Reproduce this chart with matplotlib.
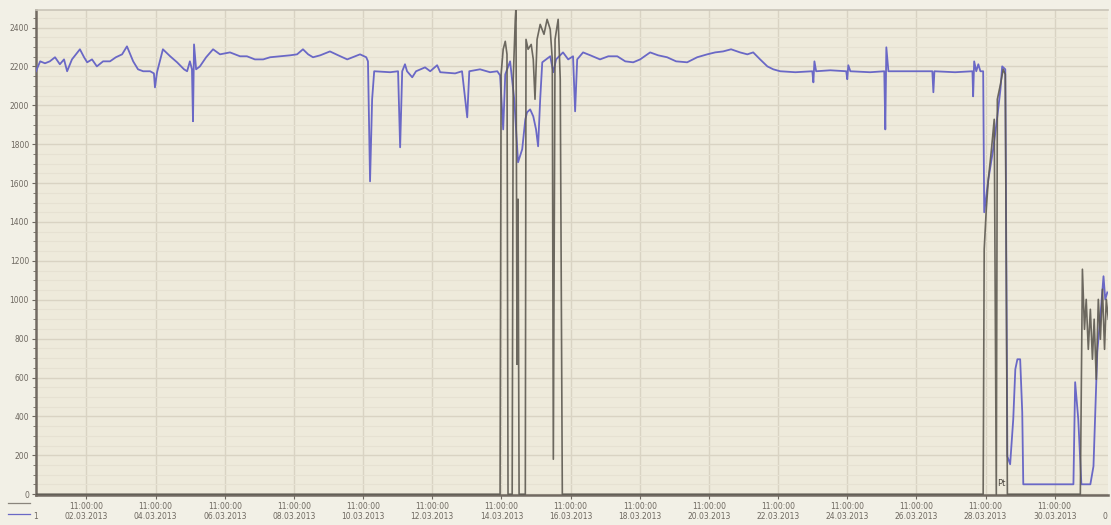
#!/usr/bin/env python3
"""
Trend plot of two channels over March 2013 (blue = measured, grey = reference).
Times are given as days since 01.03.2013 00:00.
"""

import numpy as np
import pandas as pd
import matplotlib
import matplotlib.pyplot as plt
import matplotlib.dates as mdates
from matplotlib.lines import Line2D
from matplotlib.ticker import MultipleLocator

matplotlib.use("Agg")

T0 = np.datetime64("2013-03-01T00:00")

# blue channel
blue_days = [
    0.00, 0.12, 0.26, 0.40, 0.55, 0.69, 0.81, 0.90, 1.04, 1.27, 1.39, 1.48, 1.62, 1.76,
    1.94, 2.14, 2.31, 2.49, 2.63, 2.81, 2.95, 3.10, 3.30, 3.41, 3.44, 3.50, 3.67, 3.88,
    4.08, 4.28, 4.37, 4.45, 4.51, 4.54, 4.57, 4.63, 4.74, 4.92, 5.12, 5.32, 5.61, 5.90,
    6.10, 6.33, 6.57, 6.77, 7.06, 7.35, 7.55, 7.72, 7.87, 8.01, 8.22, 8.50, 8.74, 9.00,
    9.23, 9.37, 9.55, 9.60, 9.66, 9.72, 9.78, 10.24, 10.47, 10.53, 10.59, 10.67, 10.73,
    10.88, 10.99, 11.25, 11.40, 11.60, 11.69, 12.12, 12.32, 12.47, 12.53, 12.84, 13.13,
    13.34, 13.42, 13.51, 13.57, 13.71, 13.83, 13.94, 14.06, 14.15, 14.20, 14.29, 14.38,
    14.46, 14.52, 14.58, 14.64, 14.75, 14.87, 14.96, 15.04, 15.24, 15.39, 15.53, 15.59,
    15.65, 15.82, 16.03, 16.31, 16.55, 16.81, 17.04, 17.27, 17.47, 17.76, 17.99, 18.25,
    18.51, 18.83, 19.12, 19.41, 19.64, 19.87, 20.10, 20.36, 20.57, 20.74, 20.94, 21.15,
    21.32, 21.52, 21.96, 22.45, 22.48, 22.51, 22.56, 22.97, 23.43, 23.46, 23.49, 23.55,
    24.12, 24.53, 24.56, 24.59, 24.65, 25.28, 25.92, 25.95, 25.98, 26.58, 27.08, 27.10,
    27.13, 27.19, 27.25, 27.31, 27.39, 27.42, 27.54, 27.68, 27.80, 27.89, 27.94, 28.03,
    28.09, 28.17, 28.26, 28.32, 28.38, 28.46, 28.52, 28.55, 30.00, 30.05, 30.14, 30.23,
    30.49, 30.58, 30.69, 30.78, 30.87, 30.92, 30.98,
]
blue_vals = [
    2175, 2226, 2216, 2226, 2247, 2211, 2236, 2175, 2236, 2288, 2247, 2221, 2236, 2200,
    2226, 2226, 2247, 2262, 2303, 2226, 2185, 2175, 2175, 2164, 2092, 2170, 2288, 2252,
    2221, 2185, 2175, 2226, 2185, 1918, 2313, 2185, 2200, 2247, 2288, 2262, 2272, 2252,
    2252, 2236, 2236, 2247, 2252, 2257, 2262, 2288, 2262, 2247, 2257, 2277, 2257, 2236,
    2252, 2262, 2247, 2226, 1609, 2031, 2175, 2170, 2175, 1784, 2175, 2211, 2175,
    2144, 2175, 2195, 2175, 2206, 2170, 2164, 2175, 1938, 2175, 2185, 2170,
    2175, 2154, 1876, 2159, 2226, 2031, 1707, 1774, 1928, 1964, 1979, 1943,
    1876, 1789, 2031, 2221, 2236, 2252, 2170, 2236, 2272, 2236, 2252, 1969,
    2236, 2272, 2257, 2236, 2252, 2252, 2226, 2221, 2236, 2272, 2257, 2247,
    2226, 2221, 2247, 2262, 2272, 2277, 2288, 2272, 2262, 2272, 2236, 2200,
    2185, 2175, 2170, 2175, 2118, 2226, 2175, 2180, 2175, 2134, 2206, 2175,
    2170, 2175, 1876, 2298, 2175, 2175, 2175, 2067, 2175, 2170, 2175, 2046,
    2226, 2175, 2211, 2175, 2175, 1450, 1619, 1774, 1943, 2082, 2200, 2185,
    195, 154, 386, 643, 694, 694, 422, 51, 51, 576, 386, 51,
    51, 144, 730, 915, 1121, 1002, 1038,
]

# grey channel
grey_days = [
    0.00, 13.42, 13.45, 13.51, 13.57, 13.62, 13.65, 13.77, 13.80, 13.86, 13.88, 13.91,
    13.94, 13.97, 14.15, 14.17, 14.23, 14.32, 14.38, 14.43, 14.49, 14.58, 14.69, 14.78,
    14.87, 14.93, 14.96, 15.01, 15.10, 15.16, 15.22, 27.39, 27.42, 27.48, 27.54, 27.63,
    27.71, 27.77, 27.80, 27.89, 27.97, 28.03, 28.09, 30.20, 30.26, 30.32, 30.37, 30.43,
    30.49, 30.55, 30.60, 30.66, 30.72, 30.78, 30.84, 30.90, 30.95, 31.01,
]
grey_vals = [
    0, 0, 2159, 2288, 2329, 2262, 0, 0, 2134, 2442, 2504, 668,
    1517, 0, 0, 2339, 2288, 2313, 2236, 2031, 2339, 2416, 2365, 2442,
    2391, 2236, 180, 2339, 2442, 2134, 0, 0, 1260, 1465, 1619, 1774,
    1928, 0, 2031, 2108, 2185, 2159, 0, 0, 1157, 848, 1002, 745,
    951, 694, 900, 591, 1002, 797, 1054, 745, 1002, 900,
]

Y_TICKS = list(range(0, 2401, 200))
X_TICKS = pd.date_range("2013-03-02 11:00", "2013-03-30 11:00", freq="2D")


def to_time(days):
    secs = np.round(np.asarray(days) * 86400).astype("int64")
    return T0 + secs.astype("timedelta64[s]")


BG_FIG = "#f2f0e6"
BG_AX = "#eeeadb"
TXT = "#6e6860"

fig = plt.figure(figsize=(11.11, 5.25), dpi=100)
fig.patch.set_facecolor(BG_FIG)
ax = fig.add_axes([36 / 1111, 30 / 525, 1072 / 1111, 485 / 525])
ax.set_facecolor(BG_AX)

ax.plot(to_time(blue_days), blue_vals, color="#6a68c6", lw=1.3, zorder=3)
ax.plot(to_time(grey_days), grey_vals, color="#5e5a52", lw=1.2, alpha=0.9, zorder=4)

ax.set_xlim(T0, np.datetime64("2013-04-01T00:00"))
ax.set_ylim(-4, 2490)

ax.set_yticks(Y_TICKS)
ax.yaxis.set_minor_locator(MultipleLocator(50))
ax.set_xticks(X_TICKS)
ax.xaxis.set_major_formatter(mdates.DateFormatter("%H:%M:%S\n%d.%m.%Y"))

ax.grid(True, which="major", color="#d9d3c3", lw=1.0, zorder=0)
ax.grid(True, which="minor", axis="y", color="#e6e1d2", lw=0.8, zorder=0)
ax.set_axisbelow(True)

ax.tick_params(axis="both", which="major", labelsize=5.5, colors=TXT,
               length=3, width=0.8, pad=2)
ax.tick_params(axis="y", which="minor", length=2, width=0.6, color=TXT)
for lbl in ax.get_xticklabels():
    lbl.set_linespacing(1.1)

for side in ("left", "bottom"):
    ax.spines[side].set_color("#726a62")
    ax.spines[side].set_linewidth(1.8)
ax.spines["top"].set_color("#c9c4b8")
ax.spines["top"].set_linewidth(1.2)
ax.spines["right"].set_visible(False)

# small legend swatches and markers below the axis
fig.add_artist(Line2D([8 / 1111, 30 / 1111], [22 / 525, 22 / 525], color="#8a857c", lw=0.9))
fig.add_artist(Line2D([8 / 1111, 30 / 1111], [11 / 525, 11 / 525], color="#6a68c6", lw=0.9))
fig.text(36 / 1111, 6 / 525, "1", fontsize=5.5, color=TXT, ha="center")
fig.text(1105 / 1111, 6 / 525, "0", fontsize=5.5, color=TXT, ha="center")
ax.text(np.datetime64("2013-03-28T19:00"), 40, "Pt", fontsize=6, color="#4a463f")

plt.savefig("out.png", dpi=100, facecolor=fig.get_facecolor())
print("Saved: out.png")
